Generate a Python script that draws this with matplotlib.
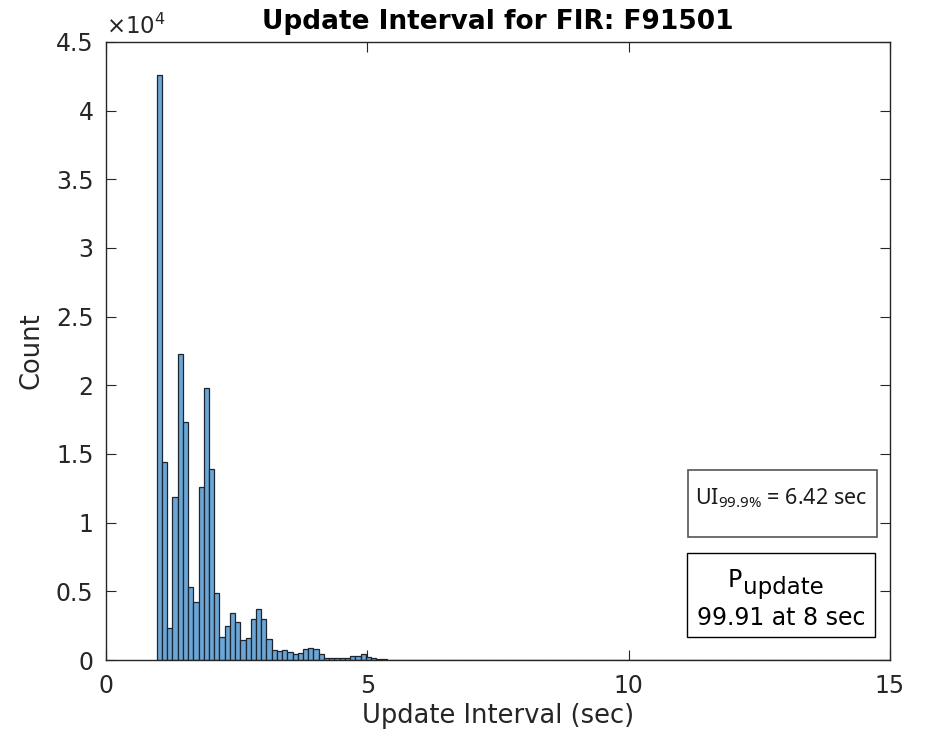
import os
import numpy as np
import matplotlib
matplotlib.use("Agg")
import matplotlib.pyplot as plt
from matplotlib.patches import Rectangle
from matplotlib import font_manager as fm

# histogram of update intervals (bin width 0.1 s)
bin_start = 0.97
bin_width = 0.1
counts_head = [42600, 14400, 2300, 11900, 22300, 17300, 5300, 4250, 12600, 19800,
               13900, 4900, 1650, 2500, 3450, 2800, 1460, 1600, 2960, 3700,
               2960, 1550, 730, 630, 700, 600, 410, 530, 800, 870,
               780, 410, 170, 170, 150, 150, 150, 270, 320, 410,
               200, 150, 70]
counts_tail = [40, 30, 25, 20, 15, 12, 10, 8, 6, 5, 4, 3, 3, 2, 2, 1, 1, 1]
n_zero_bins = 80
counts = np.array(counts_head + counts_tail + [0] * n_zero_bins, dtype=float)

title = "Update Interval for FIR: F91501"
ui_value = 6.42
p_value = 99.91
p_at = 8

# narrow font for the UI box (MATLAB squeezes this one)
narrow_fp = None
for f in fm.fontManager.ttflist:
    name = os.path.basename(f.fname).lower()
    if name.startswith("notosans") and "extracondensed" in name \
            and f.weight in (400, "normal", "regular") and f.style == "normal" \
            and "mono" not in name and "display" not in name:
        narrow_fp = fm.FontProperties(fname=f.fname, size=18.5)
        break
if narrow_fp is None:
    narrow_fp = fm.FontProperties(family="Noto Sans", stretch="condensed", size=15.5)

fig = plt.figure(figsize=(9.26, 7.35), dpi=100)
ax = fig.add_axes([0.1145, 0.102, 0.8465, 0.841])

edges = bin_start + bin_width * np.arange(len(counts))
face = (0.42, 0.65, 0.83)
ax.bar(edges, counts, width=bin_width, align="edge", color=face,
       edgecolor="#1c2633", linewidth=0.9, zorder=2)

ax.set_xlim(0, 15)
ax.set_ylim(0, 45000)
ax.set_xticks([0, 5, 10, 15])
yt = np.arange(0, 45001, 5000)
ax.set_yticks(yt)
ax.set_yticklabels([f"{v / 1e4:g}" for v in yt])

dark = "#262626"
ax.tick_params(direction="in", top=True, right=True, length=7, width=0.8,
               colors=dark, labelsize=17)
ax.tick_params(axis="y", pad=9)
ax.tick_params(axis="x", pad=10)
for s in ax.spines.values():
    s.set_color(dark)
    s.set_linewidth(1.0)

ax.set_xlabel("Update Interval (sec)", fontsize=18.5, color=dark, labelpad=4)
ax.set_ylabel("Count", fontsize=18.5, color=dark, labelpad=8)
ax.set_title(title, fontsize=19, fontweight="bold", color="black", pad=9)
ax.text(0.0, 1.005, r"$\times10^{4}$", transform=ax.transAxes, fontsize=16.5,
        color=dark, ha="left", va="bottom")

# annotation boxes
ax.add_patch(Rectangle((0.742, 0.199), 0.241, 0.108, transform=ax.transAxes,
                       facecolor="white", edgecolor="#555555", linewidth=1.2, zorder=3))
ax.text(0.8615, 0.262, "UI$_{\\mathregular{99.9\\%}}$ = " + f"{ui_value:.2f} sec",
        transform=ax.transAxes, ha="center", va="center",
        fontproperties=narrow_fp, color="#1a1a1a", zorder=4)

ax.add_patch(Rectangle((0.741, 0.037), 0.240, 0.136, transform=ax.transAxes,
                       facecolor="white", edgecolor="black", linewidth=1.0, zorder=3))
ax.text(0.811, 0.1185, "P", transform=ax.transAxes, ha="right", va="baseline",
        fontsize=17, color="black", zorder=4)
ax.text(0.813, 0.107, "update", transform=ax.transAxes, ha="left", va="baseline",
        fontsize=16.5, color="black", zorder=4)
ax.text(0.861, 0.057, f"{p_value:.2f} at {p_at} sec", transform=ax.transAxes,
        ha="center", va="baseline", fontsize=17, color="black", zorder=4)

fig.savefig("out.png", dpi=100, facecolor="white")
